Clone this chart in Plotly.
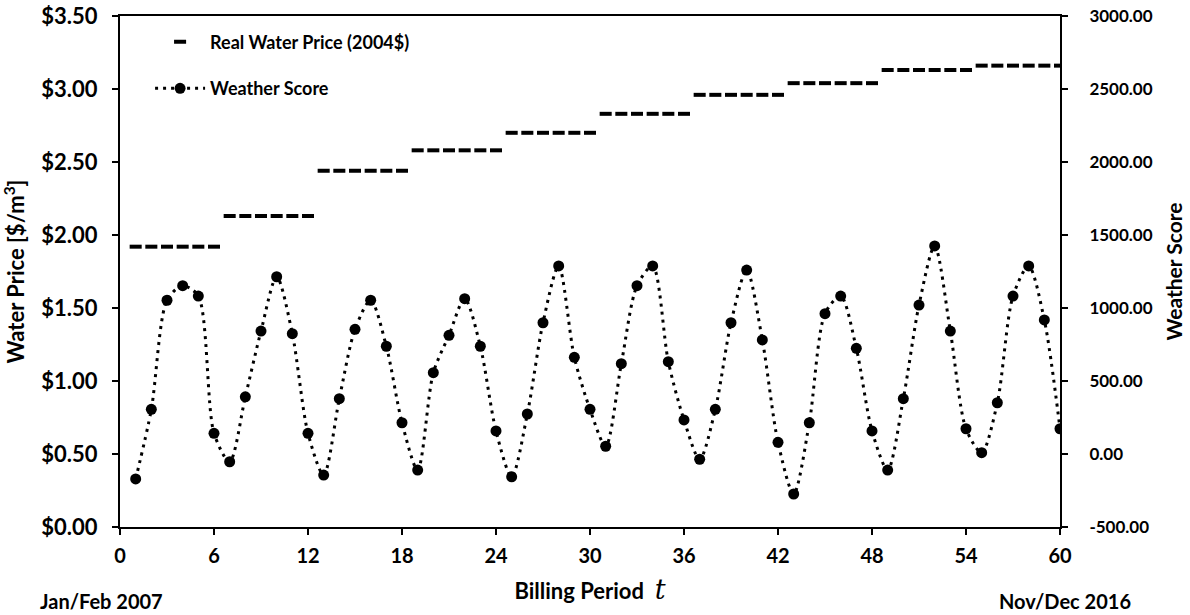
import plotly.graph_objects as go

# Billing periods (two-month periods, Jan/Feb 2007 .. Nov/Dec 2016)
periods = list(range(1, 61))

# Real water price per year (2004 dollars), six billing periods per year
annual_price = [1.92, 2.13, 2.44, 2.58, 2.70, 2.83, 2.96, 3.04, 3.13, 3.16]
water_price = [p for p in annual_price for _ in range(6)]

# Weather score per billing period
weather_score = [
    -171, 306, 1053, 1153, 1082, 142,
    -53, 392, 842, 1214, 824, 142,
    -144, 379, 854, 1053, 738, 214,
    -110, 557, 813, 1064, 738, 158,
    -156, 274, 899, 1288, 662, 306,
    53, 619, 1153, 1288, 632, 233,
    -36, 306, 899, 1260, 781, 80,
    -274, 214, 961, 1082, 724, 158,
    -110, 379, 1020, 1425, 842, 173,
    9, 351, 1082, 1288, 918, 173,
]

x_ticks = list(range(0, 61, 6))
price_ticks = [0.0, 0.5, 1.0, 1.5, 2.0, 2.5, 3.0, 3.5]
score_ticks = [-500, 0, 500, 1000, 1500, 2000, 2500, 3000]

FONT = "Lato"
INK = "black"


def bold(size):
    return dict(family=FONT, size=size, color=INK, weight="bold")


fig = go.Figure()

fig.add_trace(go.Scatter(
    x=periods, y=water_price, name="Real Water Price (2004$)",
    mode="markers", legendgroup="a",
    marker=dict(symbol="line-ew", size=8.6, color=INK,
                line=dict(color=INK, width=4)),
    yaxis="y",
))

fig.add_trace(go.Scatter(
    x=periods, y=weather_score, name="Weather Score",
    mode="lines+markers", legendgroup="b",
    line=dict(color=INK, width=3, dash="3px,5px", shape="spline", smoothing=0.8),
    marker=dict(symbol="circle", size=11, color=INK),
    yaxis="y2",
))

fig.update_layout(
    width=1190, height=615,
    margin=dict(l=120, r=130, t=16, b=88, autoexpand=False),
    paper_bgcolor="white", plot_bgcolor="white",
    font=dict(family=FONT, color=INK),
    showlegend=True,
    legend=dict(
        x=0.032, y=0.985, xanchor="left", yanchor="top",
        bgcolor="rgba(0,0,0,0)", borderwidth=0,
        font=bold(18),
        itemwidth=50, traceorder="grouped", tracegroupgap=20,
    ),
    xaxis=dict(
        range=[0, 60], tickvals=x_ticks, ticktext=[str(v) for v in x_ticks],
        showline=True, linecolor=INK, linewidth=2, mirror=True,
        ticks="outside", ticklen=6, tickwidth=2, tickcolor=INK,
        showgrid=False, zeroline=False, automargin=False,
        tickfont=bold(20), ticklabelstandoff=4,
        title=dict(text="Billing Period  <span style=\"font-family:'DejaVu Serif';font-style:italic;font-weight:normal;font-size:27px\">t</span>",
                   font=bold(22), standoff=18),
    ),
    yaxis=dict(
        range=[0, 3.5], tickvals=price_ticks,
        ticktext=["$%.2f" % v for v in price_ticks],
        showline=True, linecolor=INK, linewidth=2,
        ticks="outside", ticklen=6, tickwidth=2, tickcolor=INK,
        showgrid=False, zeroline=False, automargin=False,
        tickfont=bold(22), ticklabelstandoff=10,
        title=dict(text="Water Price [$/m<sup>3</sup>]", font=bold(22), standoff=12),
    ),
    yaxis2=dict(
        range=[-500, 3000], tickvals=score_ticks,
        ticktext=["%.2f" % v for v in score_ticks],
        overlaying="y", side="right",
        showline=True, linecolor=INK, linewidth=2,
        ticks="outside", ticklen=6, tickwidth=2, tickcolor=INK,
        showgrid=False, zeroline=False, automargin=False,
        tickfont=bold(17), ticklabelstandoff=18,
        title=dict(text="Weather Score", font=bold(21), standoff=16),
    ),
)

# Date labels at either end of the billing period axis
fig.add_annotation(text="Jan/Feb 2007", x=0, xref="x", y=-0.145, yref="paper",
                   xanchor="center", yanchor="middle", showarrow=False, xshift=-19,
                   font=bold(20))
fig.add_annotation(text="Nov/Dec 2016", x=60, xref="x", y=-0.145, yref="paper",
                   xanchor="center", yanchor="middle", showarrow=False, xshift=5,
                   font=bold(20))

fig.write_html("out.html")
